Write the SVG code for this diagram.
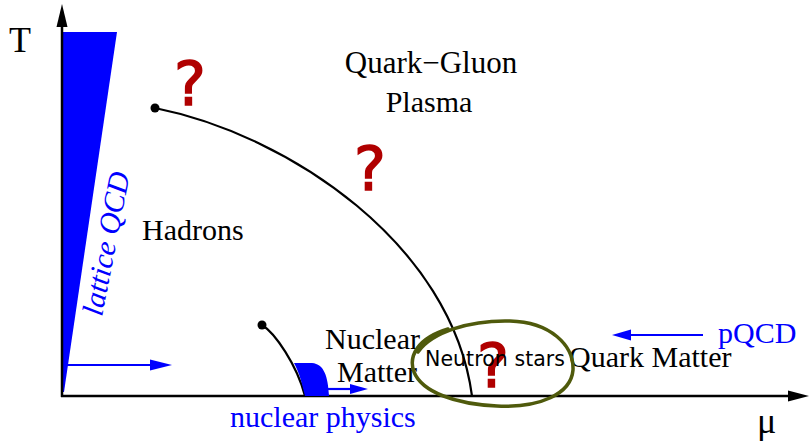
<svg xmlns="http://www.w3.org/2000/svg" width="809" height="443" viewBox="0 0 809 443">
<style>
.serif{font-family:"Liberation Serif","Times New Roman",serif;font-size:30px;fill:#000}
.blue{fill:#0000ff}
.big{font-size:36px}
.q{font-family:"DejaVu Sans",sans-serif;font-size:60px;fill:#b00000;stroke:#b00000;stroke-width:1.5}
.axis{stroke:#000;stroke-width:2.5;fill:none}
.line{stroke:#000;stroke-width:2.2;fill:none}
.barrow{stroke:#0000ff;stroke-width:2.2;fill:none}
</style>
<rect width="809" height="443" fill="#fff"/>

<g id="lattice-region">
<polygon points="63,32 117,32 64,392 63,392" fill="#0000ff"/>
<text class="serif blue" font-style="italic" transform="translate(102,317) rotate(-79)">lattice QCD</text>
</g>

<g id="axes">
<line class="axis" x1="62" y1="397" x2="62" y2="26"/>
<polygon points="62,4 56.5,27 67.5,27" fill="#000"/>
<line class="axis" x1="61" y1="396" x2="790" y2="396"/>
<polygon points="809,396 788,390.5 788,401.5" fill="#000"/>
<text class="serif big" x="9" y="52">T</text>
<text class="serif big" x="757" y="433">μ</text>
</g>

<g id="connectors">
<path class="line" d="M155,108 C290,135 452,245 472,396"/>
<path class="line" d="M262,325 C275,333 297,365 305,396"/>
<line class="barrow" x1="65" y1="365" x2="152" y2="365"/>
<polygon points="172,365 150,359.5 150,370.5" fill="#0000ff"/>
<line class="barrow" x1="326" y1="389" x2="352" y2="389"/>
<polygon points="368,389 350,384 350,394" fill="#0000ff"/>
<line class="barrow" x1="703" y1="335" x2="628" y2="335"/>
<polygon points="612,335 631,329.5 631,340.5" fill="#0000ff"/>
</g>

<g id="crit-points">
<circle cx="155" cy="108" r="4.5" fill="#000"/>
<circle cx="262" cy="325" r="4.5" fill="#000"/>
</g>

<g id="nuclear-region">
<path d="M294,363 L312,363 C324,364 328,376 329,396 L305,396 C302,383 299,372 294,363 z" fill="#0000ff"/>
</g>

<g id="qgp"><text class="serif" x="431" y="73" text-anchor="middle" style="font-size:31px">Quark−Gluon</text>
<text class="serif" x="429" y="112" text-anchor="middle">Plasma</text></g>
<g id="hadrons"><text class="serif" x="142" y="240">Hadrons</text></g>
<g id="nuclear-matter"><text class="serif" x="325" y="349">Nuclear</text>
<text class="serif" x="337" y="382">Matter</text></g>
<g id="quark-matter"><text class="serif" x="569" y="367">Quark Matter</text></g>
<g id="pqcd"><text class="serif blue" x="718" y="343">pQCD</text></g>
<g id="nuclear-physics"><text class="serif blue" x="230" y="427">nuclear physics</text></g>

<g id="questions">
<text class="q" x="190" y="105" text-anchor="middle">?</text>
<text class="q" x="370" y="190" text-anchor="middle">?</text>
<text class="q" x="493" y="387" text-anchor="middle">?</text>
</g>

<g id="neutron-stars">
<path d="M418,352 C432,332 470,320 510,321 C550,322 574,345 573,370 C571,394 540,408 497,406 C455,404 422,392 414,372 C408,356 418,338 448,329" fill="none" stroke="#4f5a0c" stroke-width="3.5" stroke-linecap="round"/>
<text x="425" y="366" font-family="'DejaVu Sans',sans-serif" font-size="20.5" textLength="140" fill="#000">Neutron stars</text>
</g>
</svg>
